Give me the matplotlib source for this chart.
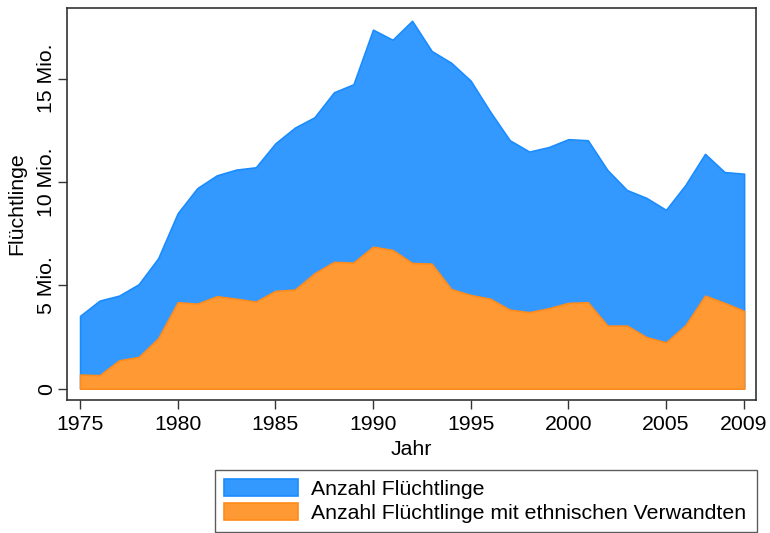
import matplotlib
matplotlib.use("Agg")
import matplotlib.pyplot as plt
from matplotlib.patches import Patch

# Millionen Flüchtlinge pro Jahr
years = list(range(1975, 2010))
refugees_total = [
    3.52, 4.26, 4.50, 5.05, 6.31, 8.49, 9.70, 10.32, 10.60, 10.71,
    11.87, 12.63, 13.13, 14.34, 14.73, 17.37, 16.88, 17.80, 16.34, 15.77,
    14.90, 13.40, 12.02, 11.47, 11.69, 12.07, 12.02, 10.58, 9.61, 9.23,
    8.65, 9.86, 11.36, 10.48, 10.40,
]
refugees_ethnic = [
    0.68, 0.65, 1.37, 1.53, 2.44, 4.18, 4.11, 4.47, 4.35, 4.21,
    4.73, 4.79, 5.58, 6.13, 6.10, 6.87, 6.71, 6.08, 6.05, 4.82,
    4.53, 4.35, 3.82, 3.70, 3.89, 4.15, 4.18, 3.05, 3.05, 2.49,
    2.24, 3.07, 4.50, 4.15, 3.76,
]
x_ticks = [1975, 1980, 1985, 1990, 1995, 2000, 2005, 2009]
y_ticks = [0, 5, 10, 15]
y_ticklabels = ["0", "5 Mio.", "10 Mio.", "15 Mio."]
labels = ["Anzahl Flüchtlinge", "Anzahl Flüchtlinge mit ethnischen Verwandten"]

BLUE_FILL, BLUE_EDGE = "#3399ff", "#1a8cff"
ORANGE_FILL, ORANGE_EDGE = "#ff9933", "#ff8c1a"
FS = 15.3

plt.rcParams["font.family"] = ["Liberation Sans", "DejaVu Sans"]
plt.rcParams["font.size"] = FS

fig = plt.figure(figsize=(7.7, 5.33), dpi=100)
ax = fig.add_axes([67 / 770, 133 / 533, 689 / 770, 392 / 533])

ax.fill_between(years, 0, refugees_total, facecolor=BLUE_FILL,
                edgecolor=BLUE_EDGE, linewidth=1.2)
ax.fill_between(years, 0, refugees_ethnic, facecolor=ORANGE_FILL,
                edgecolor=ORANGE_EDGE, linewidth=1.2)

ax.set_xlim(1974.33, 2009.61)
ax.set_ylim(-0.55, 18.42)
ax.set_xticks(x_ticks)
ax.set_yticks(y_ticks)
ax.set_yticklabels(y_ticklabels, rotation=90, va="center")
ax.tick_params(direction="out", length=6.5, width=1, colors="#333333",
               labelcolor="black", pad=4)
ax.tick_params(axis="y", pad=1.5)
for side in ax.spines.values():
    side.set_color("#333333")
    side.set_linewidth(1.2)

ax.set_xlabel("Jahr", labelpad=4.5)
ax.set_ylabel("Flüchtlinge")
# the label's baseline side sits about 26 px from the figure's left edge
ax.yaxis.set_label_coords(-41 / 689, 0.5)

handles = [
    Patch(facecolor=BLUE_FILL, edgecolor=BLUE_EDGE, linewidth=1.2),
    Patch(facecolor=ORANGE_FILL, edgecolor=ORANGE_EDGE, linewidth=1.2),
]
leg = fig.legend(
    handles, labels,
    loc="upper left",
    bbox_to_anchor=(215 / 770, 63 / 533, 542 / 770, 0.0),
    mode="expand",
    frameon=True, fancybox=False,
    handlelength=3.5, handleheight=0.85, handletextpad=0.6,
    labelspacing=0.2, borderpad=0.42, borderaxespad=0.0,
    fontsize=FS,
)
leg.get_frame().set_edgecolor("#333333")
leg.get_frame().set_linewidth(1.0)

fig.savefig("out.png", dpi=100)
